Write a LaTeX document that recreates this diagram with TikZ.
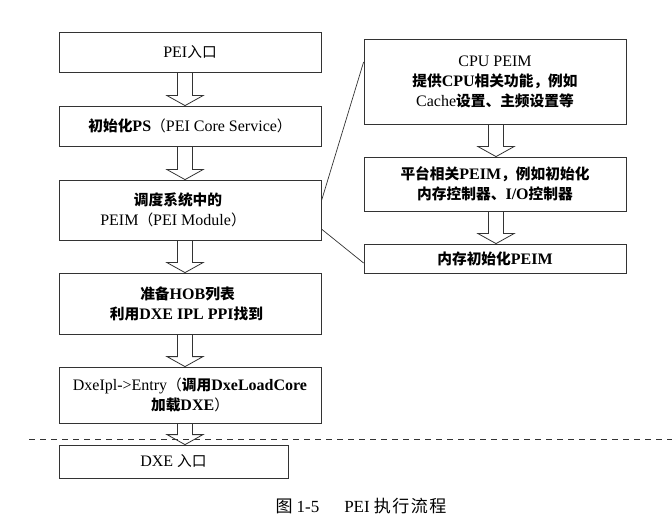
\documentclass[tikz,border=0pt]{standalone}
\usepackage{fontspec}
\setmainfont{Liberation Serif}
\newfontfamily\cjk[Scale=0.92]{Noto Sans CJK SC}
\usetikzlibrary{calc,positioning}
\newcommand{\zh}[1]{{\cjk\bfseries #1}}
\newcommand{\zhr}[1]{{\cjk #1}}
% hollow block arrow from node #1 down to node #2, on the column of coordinate #3
\newcommand{\flowarrow}[3]{%
\draw[blockarrow] let \p1=(#1.south), \p2=(#2.north), \p3=(#3) in
(\x3-7.5pt,\y1)--(\x3-7.5pt,\y2+10pt)--(\x3-18pt,\y2+10pt)--(\x3,\y2)
--(\x3+18pt,\y2+10pt)--(\x3+7.5pt,\y2+10pt)--(\x3+7.5pt,\y1);}
\begin{document}
\begin{tikzpicture}[x=1pt,y=-1pt,line join=miter]
\tikzset{every node/.style={font=\fontsize{16}{20}\selectfont},
stepbox/.style={draw=black!80,line width=0.8pt,rectangle,align=center,inner sep=0pt,minimum width=262pt},
blockarrow/.style={draw=black!80,line width=0.8pt},
link/.style={draw=black!80,line width=0.7pt}}
\useasboundingbox (0,0) rectangle (672,521);
\coordinate (lcol) at (185,0);
\coordinate (rcol) at (496,0);
% left column
\node[stepbox,minimum height=40pt] (pei) at (190,52) {PEI\zhr{入口}};
\node[stepbox,minimum height=40pt] (ps) at (190,126) {\zh{初始化}\textbf{PS}\zhr{（}PEI Core Service\zhr{）}};
\node[stepbox,minimum height=60pt] (peim) at (190,210) {\zh{调度系统中的}\hspace*{24pt}\\PEIM\zhr{（}PEI Module\zhr{）}\hspace*{34pt}};
\node[stepbox,minimum height=61pt] (hob) at (190,303.5) {\zh{准备}\textbf{HOB}\zh{列表}\hspace*{5pt}\\\zh{利用}\textbf{DXE IPL PPI}\zh{找到}\hspace*{7pt}};
\node[stepbox,minimum height=56pt] (dxeipl) at (190,395) {DxeIpl->Entry\zhr{（}\zh{调用}\textbf{DxeLoadCore}\\\zh{加载}\textbf{DXE}\zhr{）}};
\node[stepbox,minimum height=33pt,minimum width=229pt] (dxe) at (173.5,461.5) {DXE \zhr{入口}};
% right column
\node[stepbox,minimum height=85pt] (cpu) at (495,81.5) {CPU PEIM\\\zh{提供}\textbf{CPU}\zh{相关功能，例如}\\Cache\zh{设置、主频设置等}};
\node[stepbox,minimum height=54pt] (plat) at (495,184) {\zh{平台相关}\textbf{PEIM}\zh{，例如初始化}\\\zh{内存控制器、}\textbf{I/O}\zh{控制器}};
\node[stepbox,minimum height=29pt] (mem) at (495,258.5) {\zh{内存初始化}\textbf{PEIM}};
% arrows
\flowarrow{pei}{ps}{lcol}
\flowarrow{ps}{peim}{lcol}
\flowarrow{peim}{hob}{lcol}
\flowarrow{hob}{dxeipl}{lcol}
\flowarrow{dxeipl}{dxe}{lcol}
\flowarrow{cpu}{plat}{rcol}
\flowarrow{plat}{mem}{rcol}
% links to the right column
\draw[link] ([yshift=9pt]peim.east)--([yshift=19.5pt]cpu.west);
\draw[link] ([yshift=-19pt]peim.east)--([yshift=-4.5pt]mem.west);
% phase border
\coordinate (bl) at (29,439);
\coordinate (br) at (672,439);
\draw[black!80,line width=0.8pt,dash pattern=on 6pt off 5pt] (bl)--(br);
\node[font=\fontsize{17}{20}\selectfont] (caption) at (361,506)
{{\cjk\fontsize{18.5}{20}\selectfont 图}\hspace{4pt}1-5\hspace{25pt}PEI\hspace{4pt}{\cjk\fontsize{18.5}{20}\selectfont 执\hspace{1.5pt}行\hspace{1.5pt}流\hspace{1.5pt}程}};
\end{tikzpicture}
\end{document}
